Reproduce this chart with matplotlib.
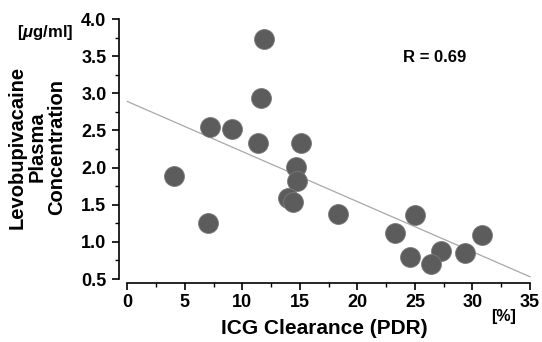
import numpy as np
import matplotlib
matplotlib.use('Agg')
import matplotlib.pyplot as plt
from matplotlib.ticker import MultipleLocator

plt.rcParams['font.family'] = ['Liberation Sans', 'DejaVu Sans']
plt.rcParams['font.weight'] = 'bold'
plt.rcParams['mathtext.fontset'] = 'custom'
plt.rcParams['mathtext.it'] = 'Liberation Sans:italic:bold'
plt.rcParams['mathtext.rm'] = 'Liberation Sans:bold'

# ICG clearance (PDR, %) vs levobupivacaine plasma concentration (ug/ml)
pdr = [11.88, 11.58, 7.18, 9.09, 11.37, 15.14, 4.08, 7.03, 14.62, 14.79,
       13.98, 14.41, 18.32, 25.03, 23.24, 30.85, 24.54, 27.23, 26.42, 29.37]
conc = [3.73, 2.93, 2.54, 2.52, 2.33, 2.33, 1.88, 1.26, 2.01, 1.82,
        1.59, 1.54, 1.38, 1.36, 1.12, 1.09, 0.80, 0.88, 0.70, 0.855]

# regression line as drawn
fit_x = [0, 35]
fit_y = [2.89, 0.53]

fig = plt.figure(figsize=(5.42, 3.42), dpi=100)
ax = fig.add_axes([127.3 / 542, 1 - 279 / 342, (530 - 127.3) / 542, (279 - 19) / 342])

ax.plot(fit_x, fit_y, color='#a8a8a8', lw=0.9, zorder=1, clip_on=False)
ax.scatter(pdr, conc, s=205, color='#5c5c5c', edgecolors='#7a7a7a',
           linewidths=0.6, zorder=2, clip_on=False)

ax.set_xlim(0, 35)
ax.set_ylim(0.5, 4.0)
ax.xaxis.set_major_locator(MultipleLocator(5))
ax.xaxis.set_minor_locator(MultipleLocator(2.5))
ax.yaxis.set_major_locator(MultipleLocator(0.5))
ax.yaxis.set_minor_locator(MultipleLocator(0.25))
ax.set_yticks(np.arange(0.5, 4.01, 0.5))
ax.set_yticklabels([f'{v:.1f}' for v in np.arange(0.5, 4.01, 0.5)])

for s in ['top', 'right']:
    ax.spines[s].set_visible(False)
ax.spines['left'].set_position(('outward', 6))
ax.spines['bottom'].set_position(('outward', 3))
ax.spines['left'].set_linewidth(1.2)
ax.spines['bottom'].set_linewidth(1.2)

ax.tick_params(which='major', direction='out', length=5, width=1.2,
               labelsize=13, pad=4)
ax.tick_params(which='minor', direction='out', length=3, width=1.0)
ax.tick_params(axis='x', which='major', pad=3)
for lab in ax.get_xticklabels() + ax.get_yticklabels():
    lab.set_fontweight('bold')

fig.text(37 / 542, 1 - 147 / 342, 'Levobupivacaine\nPlasma\nConcentration',
         rotation=90, ha='center', va='center', multialignment='center',
         fontsize=14.5, fontweight='bold', linespacing=1.05)
fig.text(45 / 542, 1 - 33 / 342, r'[$\mu$g/ml]', ha='center', va='center',
         fontsize=12, fontweight='bold')
fig.text(324 / 542, 1 - 328 / 342, 'ICG Clearance (PDR)', ha='center',
         va='center', fontsize=15, fontweight='bold')
fig.text(504 / 542, 1 - 316 / 342, '[%]', ha='center', va='center',
         fontsize=11.5, fontweight='bold')
fig.text(435 / 542, 1 - 58 / 342, 'R = 0.69', ha='center', va='center',
         fontsize=12, fontweight='bold')

plt.savefig('out.png', dpi=100)
